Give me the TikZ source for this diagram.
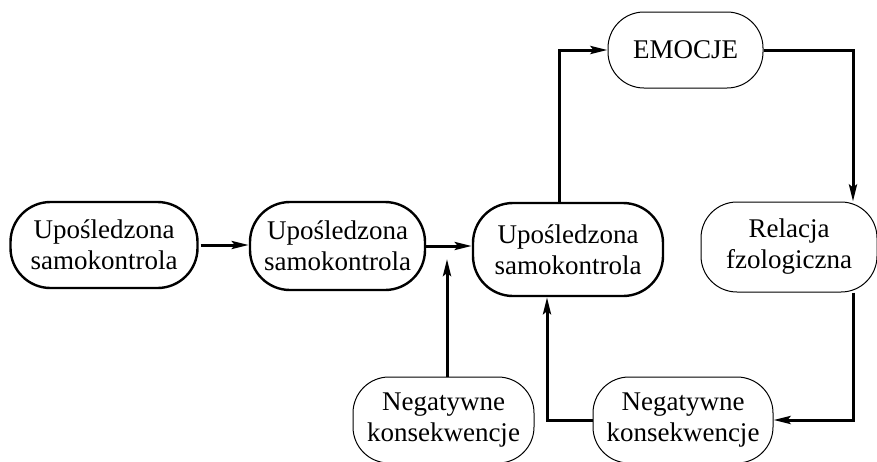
\documentclass[tikz,border=0pt]{standalone}
\usepackage{fontspec}
\setmainfont{Liberation Serif}
\usetikzlibrary{arrows.meta}
\begin{document}
\begin{tikzpicture}[x=1pt,y=-1pt,
  box/.style={draw, align=center, inner sep=0pt,
    font=\fontsize{27}{31}\selectfont},
  thickbox/.style={box, line width=2.4pt, rounded corners=40pt},
  thinbox/.style={box, line width=1pt, rounded corners=36pt},
  conn/.style={line width=3pt, -{Stealth[length=17pt,width=8pt,inset=3pt]}}]
  \clip (0,0) rectangle (877,461);

  % main chain of states
  \node[thickbox, minimum width=187pt, minimum height=86pt] (A) at (104,245)
    {Upośledzona\\samokontrola};
  \node[thickbox, minimum width=175pt, minimum height=88pt] (B) at (337.5,246)
    {Upośledzona\\samokontrola};
  \node[thickbox, minimum width=190pt, minimum height=93pt] (C) at (568,249.5)
    {Upośledzona\\samokontrola};

  % feedback loop
  \node[thinbox, minimum width=155pt, minimum height=76pt] (E) at (685.5,50) {EMOCJE};
  \node[thinbox, minimum width=176pt, minimum height=90pt] (R) at (789,247)
    {Relacja\\fzologiczna};
  \node[thinbox, minimum width=181pt, minimum height=86pt] (N1) at (443.5,420)
    {Negatywne\\konsekwencje};
  \node[thinbox, minimum width=180pt, minimum height=86pt] (N2) at (683,420)
    {Negatywne\\konsekwencje};

  % connectors
  \coordinate (j1) at (447,259);
  \coordinate (xc) at (559,0);
  \coordinate (xr) at (853,0);
  \coordinate (xl) at (547,0);

  \draw[conn] ([xshift=2pt]A.east) -- (A.east -| B.west);
  \draw[conn] (B.east) -- (B.east -| C.west);
  \draw[conn] (N1.north -| j1) -- (j1);
  \draw[conn] (C.north -| xc) |- (E.west);
  \draw[conn] (E.east) -| (R.north -| xr);
  \draw[conn] (R.south -| xr) |- (N2.east);
  \draw[conn] (N2.west) -| (C.south -| xl);
\end{tikzpicture}
\end{document}
